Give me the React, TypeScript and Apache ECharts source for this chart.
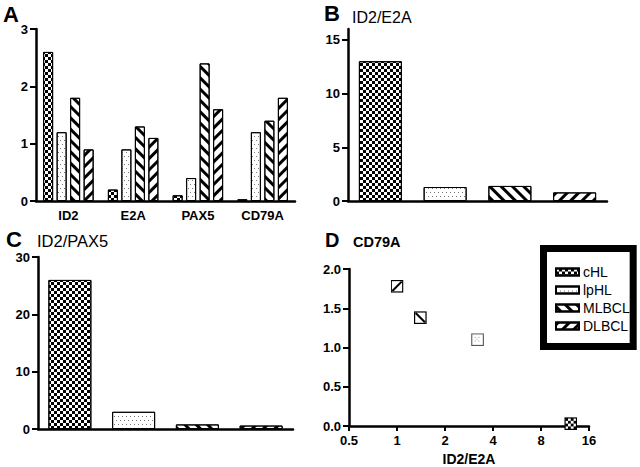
import React, { useEffect, useRef } from 'react';
import * as echarts from 'echarts';

const groups = ['cHL', 'lpHL', 'MLBCL', 'DLBCL'];
const genes = ['ID2', 'E2A', 'PAX5', 'CD79A'];
const cHLExpr = [2.6, 0.2, 0.1, 0.03];
const lpHLExpr = [1.2, 0.9, 0.4, 1.2];
const mlbclExpr = [1.8, 1.3, 2.4, 1.4];
const dlbclExpr = [0.9, 1.1, 1.6, 1.8];
const id2E2ARatio = [13, 1.3, 1.4, 0.8];
const id2Pax5Ratio = [26, 3, 0.8, 0.6];
const scatterId2E2A = [12.3, 3.2, 1.4, 1.0];
const scatterCd79a = [0.03, 1.1, 1.38, 1.78];
const ticksA = [0, 1, 2, 3];
const ticksB = [0, 5, 10, 15];
const ticksC = [0, 10, 20, 30];

const FONT = 'Liberation Sans, Arial, sans-serif';

const decals: any[] = [
  { symbol: 'rect', symbolSize: 1, color: '#000', dashArrayX: [[3, 3], [0, 3, 3, 0]], dashArrayY: [3, 0], rotation: 0 },
  { symbol: 'rect', symbolSize: 1, color: '#777', dashArrayX: [[1, 3], [0, 2, 1, 1]], dashArrayY: [1, 3], rotation: 0 },
  { symbol: 'rect', symbolSize: 1, color: '#000', dashArrayX: [1, 0], dashArrayY: [2.4, 5], rotation: Math.PI / 4 },
  { symbol: 'rect', symbolSize: 1, color: '#000', dashArrayX: [1, 0], dashArrayY: [2.4, 5], rotation: -Math.PI / 4 },
];

// checker cells for the cHL marker glyph
const checkerCells = (() => {
  let s = '';
  for (let r = 0; r < 4; r++) for (let c = 0; c < 4; c++) if ((r + c) % 2 === 0) s += `<rect x='${1 + c * 3}' y='${1 + r * 3}' width='3' height='3' fill='black'/>`;
  return s;
})();

// marker glyphs for panel D (same fills as the bars, drawn as small SVG images)
const markerInner = [
  "<rect x='0.75' y='0.75' width='12.5' height='12.5' fill='white' stroke='black' stroke-width='1.5'/>" + checkerCells,
  "<rect x='0.75' y='0.75' width='12.5' height='12.5' fill='white' stroke='%23555' stroke-width='1.2'/><g fill='%23888'><rect x='4' y='4' width='1' height='1'/><rect x='8' y='4' width='1' height='1'/><rect x='4' y='8' width='1' height='1'/><rect x='8' y='8' width='1' height='1'/><rect x='6' y='6' width='1' height='1'/></g>",
  "<rect x='0.75' y='0.75' width='12.5' height='12.5' fill='white' stroke='black' stroke-width='1.5'/><line x1='2' y1='2' x2='12' y2='12' stroke='black' stroke-width='2.2'/>",
  "<rect x='0.75' y='0.75' width='12.5' height='12.5' fill='white' stroke='black' stroke-width='1.5'/><line x1='2' y1='12' x2='12' y2='2' stroke='black' stroke-width='2.2'/>",
];
const markerSymbol = (inner: string) =>
  "image://data:image/svg+xml;charset=utf-8," +
  "<svg xmlns='http://www.w3.org/2000/svg' width='14' height='14' viewBox='0 0 14 14'>" + inner + "</svg>";

const exprByGroup = [cHLExpr, lpHLExpr, mlbclExpr, dlbclExpr];

const lineStyle = { color: '#000', width: 2.5 };
const tickStyle = { color: '#000', width: 2 };
const labelStyle = { color: '#000', fontFamily: FONT, fontWeight: 'bold' as const, fontSize: 13 };

export default function App() {
  const ref = useRef<HTMLDivElement>(null);
  useEffect(() => {
    if (!ref.current) return;
    const chart = echarts.init(ref.current, null, { renderer: 'svg' });

    const barItem = (v: number, i: number) => ({
      value: v,
      itemStyle: { color: '#fff', borderColor: '#000', borderWidth: 1, decal: decals[i] },
    });

    const option: any = {
      animation: false,
      backgroundColor: '#fff',
      grid: [
        { left: 36, top: 29, width: 259, height: 172 },
        { left: 348, top: 29, width: 259, height: 172 },
        { left: 38, top: 257, width: 255, height: 172 },
        { left: 349, top: 269, width: 240, height: 160 },
      ],
      xAxis: [
        {
          type: 'category', gridIndex: 0, data: genes,
          axisLine: { lineStyle }, axisTick: { alignWithLabel: true, length: 5, lineStyle: tickStyle },
          axisLabel: { ...labelStyle, margin: 8 },
        },
        {
          type: 'category', gridIndex: 1, data: groups,
          axisLine: { lineStyle }, axisTick: { alignWithLabel: true, length: 5, lineStyle: tickStyle },
          axisLabel: { show: false },
        },
        {
          type: 'category', gridIndex: 2, data: groups,
          axisLine: { lineStyle }, axisTick: { show: false },
          axisLabel: { show: false },
        },
        {
          type: 'log', logBase: 2, gridIndex: 3, min: 0.5, max: 16,
          name: 'ID2/E2A', nameLocation: 'middle', nameGap: 26,
          nameTextStyle: { ...labelStyle, fontSize: 14 },
          axisLine: { lineStyle }, axisTick: { length: 5, lineStyle: tickStyle },
          axisLabel: { ...labelStyle, margin: 8 },
          splitLine: { show: false }, minorTick: { show: false },
        },
      ],
      yAxis: [
        {
          type: 'value', gridIndex: 0, min: 0, max: 3, interval: 1,
          axisLine: { show: true, lineStyle }, axisTick: { show: true, length: 6, lineStyle: tickStyle, customValues: ticksA },
          axisLabel: { ...labelStyle, margin: 8, customValues: ticksA }, splitLine: { show: false },
        },
        {
          type: 'value', gridIndex: 1, min: 0, max: 16, interval: 5,
          axisLine: { show: true, lineStyle }, axisTick: { show: true, length: 6, lineStyle: tickStyle, customValues: ticksB },
          axisLabel: { ...labelStyle, margin: 8, customValues: ticksB }, splitLine: { show: false },
        },
        {
          type: 'value', gridIndex: 2, min: 0, max: 30, interval: 10,
          axisLine: { show: true, lineStyle }, axisTick: { show: true, length: 6, lineStyle: tickStyle, customValues: ticksC },
          axisLabel: { ...labelStyle, margin: 8, customValues: ticksC }, splitLine: { show: false },
        },
        {
          type: 'value', gridIndex: 3, min: 0, max: 2, interval: 0.5,
          axisLine: { show: true, lineStyle }, axisTick: { show: true, length: 6, lineStyle: tickStyle },
          axisLabel: { ...labelStyle, margin: 8, formatter: (v: number) => v.toFixed(1) }, splitLine: { show: false },
        },
      ],
      legend: {
        data: groups,
        orient: 'vertical',
        left: 543.5, top: 248.5,
        padding: [16.5, 3.5, 13.5, 11.5],
        itemGap: 4,
        itemWidth: 23, itemHeight: 7,
        icon: 'rect',
        selectedMode: false,
        borderColor: '#000', borderWidth: 7, backgroundColor: '#fff',
        textStyle: { fontFamily: FONT, fontSize: 14, color: '#000', padding: [0, 0, 0, -1] },
      },
      graphic: [
        { type: 'text', x: 3, y: 14, style: { text: 'A', font: `bold 22px ${FONT}`, fill: '#000', verticalAlign: 'middle' } },
        { type: 'text', x: 324, y: 13, style: { text: 'B', font: `bold 22px ${FONT}`, fill: '#000', verticalAlign: 'middle' } },
        { type: 'text', x: 352, y: 17, style: { text: 'ID2/E2A', font: `16px ${FONT}`, fill: '#000', verticalAlign: 'middle' } },
        { type: 'text', x: 6, y: 239, style: { text: 'C', font: `bold 22px ${FONT}`, fill: '#000', verticalAlign: 'middle' } },
        { type: 'text', x: 37, y: 241, style: { text: 'ID2/PAX5', font: `16.5px ${FONT}`, fill: '#000', verticalAlign: 'middle' } },
        { type: 'text', x: 325, y: 240, style: { text: 'D', font: `bold 20px ${FONT}`, fill: '#000', verticalAlign: 'middle' } },
        { type: 'text', x: 353, y: 242, style: { text: 'CD79A', font: `bold 14.5px ${FONT}`, fill: '#000', verticalAlign: 'middle' } },
      ],
      series: [
        ...groups.map((g, i) => ({
          name: g, type: 'bar', xAxisIndex: 0, yAxisIndex: 0,
          barWidth: 10, barGap: '35%',
          itemStyle: { color: '#fff', borderColor: '#000', borderWidth: 1, decal: decals[i] },
          data: exprByGroup[i],
        })),
        {
          name: 'ID2/E2A', type: 'bar', xAxisIndex: 1, yAxisIndex: 1, barWidth: 43,
          data: id2E2ARatio.map(barItem),
        },
        {
          name: 'ID2/PAX5', type: 'bar', xAxisIndex: 2, yAxisIndex: 2, barWidth: 43,
          data: id2Pax5Ratio.map(barItem),
        },
        ...groups.map((g, i) => ({
          name: g + ' ', type: 'scatter', xAxisIndex: 3, yAxisIndex: 3,
          symbol: markerSymbol(markerInner[i]), symbolSize: 13,
          itemStyle: { opacity: 1 },
          data: [[scatterId2E2A[i], scatterCd79a[i]]],
        })),
      ],
    };
    chart.setOption(option);
    return () => chart.dispose();
  }, []);
  return <div ref={ref} style={{ position: 'fixed', left: 0, top: 0, width: 640, height: 467, background: '#fff' }} />;
}
